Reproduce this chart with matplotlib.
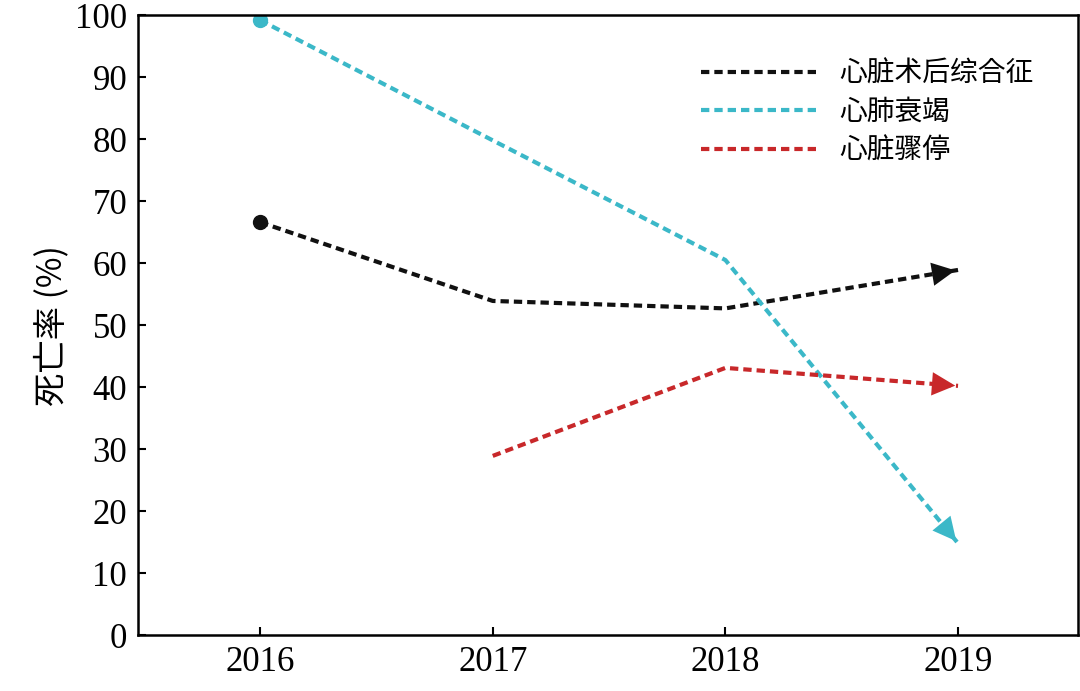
import matplotlib.pyplot as plt
import numpy as np

# data
years = [2016, 2017, 2018, 2019]
postop_years = [2016, 2017, 2018, 2019]
postop = [66.6, 53.9, 52.7, 58.9]
cardio_years = [2016, 2017, 2018, 2019]
cardio = [99.2, 79.8, 60.5, 14.8]
arrest_years = [2017, 2018, 2019]
arrest = [28.9, 43.1, 40.2]
labels = ["心脏术后综合征", "心肺衰竭", "心脏骤停"]
colors = ["#111111", "#3bb8c8", "#c8282a"]

cjk = ["Noto Sans CJK SC", "Noto Sans CJK JP", "Noto Sans CJK TC", "Noto Sans CJK KR", "DejaVu Sans"]
serif = "Liberation Serif"

fig = plt.figure(figsize=(10.8, 6.91), dpi=100)
ax = fig.add_axes([0.128, 0.081, 0.87, 0.897])

series = [(postop_years, postop, True), (cardio_years, cardio, True), (arrest_years, arrest, False)]
for (xs, ys, dot), lab, c in zip(series, labels, colors):
    ax.plot(xs, ys, ls=(0, (2, 1.2)), lw=3, color=c, label=lab)
    if dot:
        ax.plot(xs[0], ys[0], "o", color=c, ms=10)
    # arrow head at the last point, pointing along the last segment
    x0, y0 = xs[-2], ys[-2]
    x1, y1 = xs[-1], ys[-1]
    t = 0.85
    ax.annotate("", xy=(x1, y1), xytext=(x0 + t * (x1 - x0), y0 + t * (y1 - y0)),
                arrowprops=dict(arrowstyle="-|>", mutation_scale=42, color=c, lw=0))

ax.set_xlim(2015.476, 2019.515)
ax.set_ylim(0, 100)
ax.set_xticks(years)
ax.set_yticks(range(0, 101, 10))
for lbl in ax.get_xticklabels() + ax.get_yticklabels():
    lbl.set_fontfamily(serif)
    lbl.set_fontsize(25)
ax.tick_params(direction="in", width=1.5, length=6, pad=8)
for s in ax.spines.values():
    s.set_linewidth(1.8)
ax.set_ylabel("死亡率 (%)", fontfamily=cjk, fontsize=24)

leg = ax.legend(loc="upper right", frameon=False, prop={"family": cjk, "size": 20},
                handlelength=4.2, bbox_to_anchor=(0.98, 0.97), labelspacing=0.3)
fig.savefig("out.png", dpi=100)
